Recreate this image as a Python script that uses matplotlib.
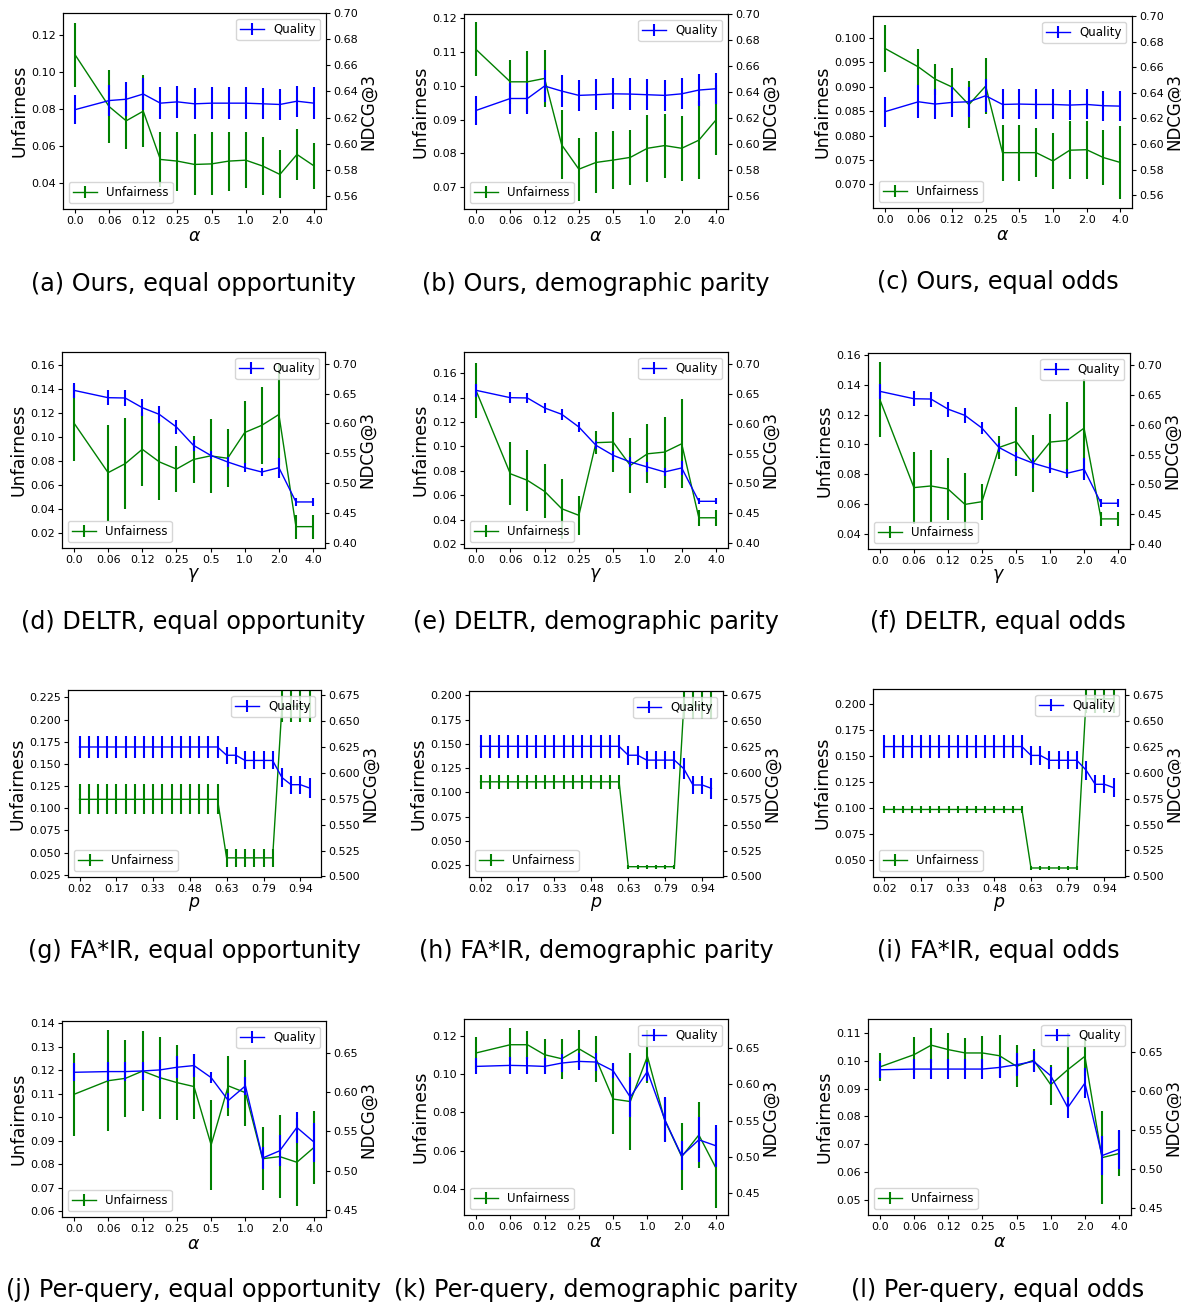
import matplotlib
matplotlib.use("Agg")
import matplotlib.pyplot as plt
from matplotlib.ticker import MultipleLocator, FormatStrFormatter
import numpy as np

# x grids
alpha_vals = [0.0, 0.0625, 0.0884, 0.125, 0.1768, 0.25, 0.3536, 0.5, 0.7071, 1.0, 1.4142, 2.0, 2.8284, 4.0]
alpha_ticks = [0.0, 0.0625, 0.125, 0.25, 0.5, 1.0, 2.0, 4.0]
alpha_tick_labels = ["0.0", "0.06", "0.12", "0.25", "0.5", "1.0", "2.0", "4.0"]
p_vals = [0.020, 0.058, 0.097, 0.135, 0.174, 0.212, 0.250, 0.289, 0.327, 0.366, 0.404, 0.442, 0.481,
          0.519, 0.558, 0.596, 0.634, 0.673, 0.711, 0.750, 0.788, 0.826, 0.865, 0.903, 0.942, 0.980]

# (a) Ours, equal opportunity
a_unf = [0.1095, 0.0814, 0.0737, 0.0789, 0.0528, 0.0519, 0.0501, 0.0504, 0.0519, 0.0524, 0.0492, 0.0447, 0.0555, 0.0493]
a_unf_err = [0.0173, 0.0196, 0.0150, 0.0195, 0.0150, 0.0160, 0.0167, 0.0170, 0.0160, 0.0150, 0.0155, 0.0130, 0.0140, 0.0126]
a_ndcg = [0.626, 0.633, 0.634, 0.638, 0.631, 0.632, 0.6305, 0.631, 0.631, 0.631, 0.6305, 0.630, 0.6325, 0.631]
a_ndcg_err = [0.011, 0.012, 0.013, 0.0125, 0.012, 0.012, 0.012, 0.012, 0.012, 0.012, 0.012, 0.012, 0.012, 0.012]

# (b) Ours, demographic parity
b_unf = [0.1108, 0.1012, 0.1012, 0.1022, 0.0825, 0.0753, 0.0773, 0.0780, 0.0788, 0.0815, 0.0823, 0.0815, 0.0839, 0.0899]
b_unf_err = [0.0080, 0.0066, 0.0090, 0.0085, 0.0102, 0.0093, 0.0090, 0.0085, 0.0081, 0.0100, 0.0095, 0.0096, 0.0115, 0.0104]
b_ndcg = [0.6258, 0.635, 0.635, 0.6446, 0.6407, 0.6374, 0.6379, 0.6386, 0.6384, 0.6379, 0.6374, 0.6386, 0.6415, 0.6425]
b_ndcg_err = [0.0112, 0.0116, 0.0118, 0.012, 0.012, 0.012, 0.012, 0.012, 0.012, 0.012, 0.012, 0.012, 0.012, 0.012]

# (c) Ours, equal odds
c_unf = [0.0978, 0.0940, 0.0915, 0.0899, 0.0863, 0.0901, 0.0765, 0.0765, 0.0765, 0.0748, 0.0770, 0.0771, 0.0755, 0.0745]
c_unf_err = [0.0048, 0.0036, 0.0032, 0.0039, 0.0048, 0.0058, 0.0057, 0.0057, 0.0050, 0.0057, 0.0059, 0.0059, 0.0057, 0.0075]
c_ndcg = [0.6252, 0.633, 0.6312, 0.6325, 0.633, 0.6377, 0.6309, 0.6312, 0.6309, 0.6309, 0.6304, 0.6309, 0.6299, 0.6296]
c_ndcg_err = [0.0117, 0.0128, 0.0117, 0.0117, 0.0117, 0.0130, 0.0117, 0.0117, 0.0117, 0.0117, 0.0117, 0.0117, 0.0117, 0.0117]

# (d) DELTR, equal opportunity
d_unf = [0.1114, 0.0700, 0.0775, 0.0895, 0.0790, 0.0730, 0.0810, 0.0840, 0.0820, 0.1035, 0.1095, 0.1185, 0.0250, 0.0250]
d_unf_err = [0.032, 0.040, 0.038, 0.031, 0.032, 0.0195, 0.0195, 0.031, 0.024, 0.026, 0.032, 0.042, 0.010, 0.010]
d_ndcg = [0.6553, 0.643, 0.6425, 0.6263, 0.615, 0.5939, 0.5631, 0.5464, 0.5352, 0.5257, 0.5184, 0.5257, 0.4682, 0.4682]
d_ndcg_err = [0.0126, 0.0126, 0.0126, 0.0137, 0.0137, 0.012, 0.0092, 0.007, 0.008, 0.008, 0.007, 0.0168, 0.006, 0.006]

# (e) DELTR, demographic parity
e_unf = [0.1458, 0.0777, 0.0723, 0.0633, 0.0491, 0.0437, 0.1031, 0.1036, 0.0845, 0.0940, 0.0954, 0.1022, 0.0417, 0.0417]
e_unf_err = [0.0223, 0.0256, 0.025, 0.022, 0.0245, 0.016, 0.0095, 0.0245, 0.0225, 0.024, 0.029, 0.0365, 0.0065, 0.0065]
e_ndcg = [0.6564, 0.644, 0.6435, 0.6267, 0.6161, 0.5948, 0.564, 0.5472, 0.536, 0.5276, 0.5193, 0.526, 0.470, 0.470]
e_ndcg_err = [0.011, 0.009, 0.009, 0.009, 0.009, 0.008, 0.007, 0.008, 0.009, 0.008, 0.007, 0.012, 0.005, 0.005]

# (f) DELTR, equal odds
f_unf = [0.1299, 0.0712, 0.0723, 0.0703, 0.0600, 0.0618, 0.0980, 0.1020, 0.0875, 0.1016, 0.1027, 0.1109, 0.0503, 0.0503]
f_unf_err = [0.025, 0.024, 0.024, 0.021, 0.021, 0.012, 0.0078, 0.0228, 0.019, 0.019, 0.0254, 0.033, 0.0045, 0.0045]
f_ndcg = [0.6563, 0.6439, 0.6434, 0.6265, 0.6159, 0.5946, 0.562, 0.5469, 0.5357, 0.5273, 0.5188, 0.5256, 0.4684, 0.4684]
f_ndcg_err = [0.0126, 0.0126, 0.0126, 0.0126, 0.0126, 0.010, 0.008, 0.008, 0.008, 0.008, 0.007, 0.018, 0.007, 0.007]

# (g) FA*IR, equal opportunity
g_unf = [0.110, 0.110, 0.110, 0.110, 0.110, 0.110, 0.110, 0.110, 0.110, 0.110, 0.110, 0.110, 0.110,
         0.110, 0.110, 0.110, 0.044, 0.044, 0.044, 0.044, 0.044, 0.044, 0.215, 0.215, 0.215, 0.215]
g_unf_err = [0.017, 0.017, 0.017, 0.017, 0.017, 0.017, 0.017, 0.017, 0.017, 0.017, 0.017, 0.017, 0.017,
             0.017, 0.017, 0.017, 0.0103, 0.0103, 0.0103, 0.0103, 0.0103, 0.0103, 0.018, 0.018, 0.018, 0.018]
g_ndcg = [0.625, 0.625, 0.625, 0.625, 0.625, 0.625, 0.625, 0.625, 0.625, 0.625, 0.625, 0.625, 0.625,
          0.625, 0.625, 0.625, 0.617, 0.617, 0.612, 0.612, 0.612, 0.612, 0.5955, 0.5886, 0.5886, 0.5854]
g_ndcg_err = [0.0106, 0.0106, 0.0106, 0.0106, 0.0106, 0.0106, 0.0106, 0.0106, 0.0106, 0.0106, 0.0106, 0.0106, 0.0106,
              0.0106, 0.0106, 0.0106, 0.0084, 0.0084, 0.0087, 0.0087, 0.0087, 0.0087, 0.0095, 0.0087, 0.0087, 0.0092]

# (h) FA*IR, demographic parity
h_unf = [0.111, 0.111, 0.111, 0.111, 0.111, 0.111, 0.111, 0.111, 0.111, 0.111, 0.111, 0.111, 0.111,
         0.111, 0.111, 0.111, 0.0236, 0.0236, 0.0236, 0.0236, 0.0236, 0.0236, 0.190, 0.190, 0.190, 0.190]
h_unf_err = [0.0069, 0.0069, 0.0069, 0.0069, 0.0069, 0.0069, 0.0069, 0.0069, 0.0069, 0.0069, 0.0069, 0.0069, 0.0069,
             0.0069, 0.0069, 0.0069, 0.002, 0.002, 0.002, 0.002, 0.002, 0.002, 0.014, 0.014, 0.014, 0.014]
h_ndcg = [0.6256, 0.6256, 0.6256, 0.6256, 0.6256, 0.6256, 0.6256, 0.6256, 0.6256, 0.6256, 0.6256, 0.6256, 0.6256,
          0.6256, 0.6256, 0.6256, 0.617, 0.617, 0.6123, 0.6123, 0.6123, 0.6123, 0.604, 0.5883, 0.5883, 0.585]
h_ndcg_err = [0.0108, 0.0108, 0.0108, 0.0108, 0.0108, 0.0108, 0.0108, 0.0108, 0.0108, 0.0108, 0.0108, 0.0108, 0.0108,
              0.0108, 0.0108, 0.0108, 0.0092, 0.0092, 0.0087, 0.0087, 0.0087, 0.0087, 0.0103, 0.0087, 0.0087, 0.0103]

# (i) FA*IR, equal odds
i_unf = [0.0984, 0.0984, 0.0984, 0.0984, 0.0984, 0.0984, 0.0984, 0.0984, 0.0984, 0.0984, 0.0984, 0.0984, 0.0984,
         0.0984, 0.0984, 0.0984, 0.042, 0.042, 0.042, 0.042, 0.042, 0.042, 0.205, 0.205, 0.205, 0.205]
i_unf_err = [0.0032, 0.0032, 0.0032, 0.0032, 0.0032, 0.0032, 0.0032, 0.0032, 0.0032, 0.0032, 0.0032, 0.0032, 0.0032,
             0.0032, 0.0032, 0.0032, 0.0016, 0.0016, 0.0016, 0.0016, 0.0016, 0.0016, 0.014, 0.014, 0.014, 0.014]
i_ndcg = [0.625, 0.625, 0.625, 0.625, 0.625, 0.625, 0.625, 0.625, 0.625, 0.625, 0.625, 0.625, 0.625,
          0.625, 0.625, 0.625, 0.6165, 0.6165, 0.6118, 0.6118, 0.6118, 0.6118, 0.6023, 0.5887, 0.5887, 0.5855]
i_ndcg_err = [0.0107, 0.0107, 0.0107, 0.0107, 0.0107, 0.0107, 0.0107, 0.0107, 0.0107, 0.0107, 0.0107, 0.0107, 0.0107,
              0.0107, 0.0107, 0.0107, 0.009, 0.009, 0.0087, 0.0087, 0.0087, 0.0087, 0.009, 0.0087, 0.0087, 0.0095]

# (j) Per-query, equal opportunity
j_unf = [0.1098, 0.1156, 0.1166, 0.1197, 0.1169, 0.1148, 0.1131, 0.0883, 0.1134, 0.1105, 0.0824, 0.0833, 0.0809, 0.0872]
j_unf_err = [0.0176, 0.0216, 0.0164, 0.017, 0.0175, 0.016, 0.014, 0.019, 0.0127, 0.014, 0.0134, 0.0176, 0.0188, 0.0157]
j_ndcg = [0.6257, 0.6266, 0.6266, 0.6274, 0.6287, 0.6321, 0.6343, 0.6189, 0.5896, 0.6083, 0.516, 0.5253, 0.5551, 0.5364]
j_ndcg_err = [0.0113, 0.012, 0.012, 0.012, 0.0128, 0.0138, 0.0145, 0.0075, 0.009, 0.0113, 0.0145, 0.020, 0.020, 0.025]

# (k) Per-query, demographic parity
k_unf = [0.111, 0.1153, 0.1153, 0.1101, 0.108, 0.1132, 0.108, 0.087, 0.0857, 0.1092, 0.0762, 0.057, 0.0683, 0.051]
k_unf_err = [0.0081, 0.0087, 0.0074, 0.008, 0.0103, 0.0098, 0.0119, 0.018, 0.0254, 0.014, 0.0113, 0.0174, 0.017, 0.0209]
k_ndcg = [0.6247, 0.6261, 0.6256, 0.6247, 0.6293, 0.6316, 0.6307, 0.6187, 0.5824, 0.6178, 0.5521, 0.5015, 0.5236, 0.5153]
k_ndcg_err = [0.011, 0.012, 0.012, 0.011, 0.012, 0.012, 0.013, 0.01, 0.0276, 0.0126, 0.031, 0.02, 0.031, 0.029]

# (l) Per-query, equal odds
l_unf = [0.0978, 0.1022, 0.1056, 0.104, 0.1028, 0.1028, 0.1018, 0.098, 0.1002, 0.0914, 0.0968, 0.1016, 0.0652, 0.0667]
l_unf_err = [0.0049, 0.0065, 0.0063, 0.0059, 0.0055, 0.0061, 0.0075, 0.0076, 0.0039, 0.0072, 0.013, 0.0069, 0.0168, 0.0081]
l_ndcg = [0.6276, 0.6285, 0.6285, 0.6285, 0.6285, 0.6285, 0.6306, 0.6341, 0.6384, 0.6199, 0.579, 0.6104, 0.517, 0.5253]
l_ndcg_err = [0.0108, 0.0125, 0.0125, 0.0125, 0.0125, 0.0125, 0.013, 0.015, 0.014, 0.011, 0.013, 0.019, 0.025, 0.025]

captions = ["(a) Ours, equal opportunity", "(b) Ours, demographic parity", "(c) Ours, equal odds",
            "(d) DELTR, equal opportunity", "(e) DELTR, demographic parity", "(f) DELTR, equal odds",
            "(g) FA*IR, equal opportunity", "(h) FA*IR, demographic parity", "(i) FA*IR, equal odds",
            "(j) Per-query, equal opportunity", "(k) Per-query, demographic parity", "(l) Per-query, equal odds"]

W, H = 1181, 1305


def alpha_pos(v):
    # sqrt(2) steps -> one slot each; 0.0 sits two slots left of 0.0625
    v = np.asarray(v, dtype=float)
    out = np.zeros_like(v)
    nz = v > 0
    out[nz] = 2 * np.log2(v[nz]) + 10
    return out


# panel: (data, xkind, xlabel, left ylim, right ylim, left step, right step, left fmt, right fmt, box px, caption xy)
panels = [
    ((a_unf, a_unf_err, a_ndcg, a_ndcg_err), "alpha", r"$\alpha$", (0.026, 0.132), (0.55, 0.70), 0.02, 0.02, "%.2f", "%.2f", (63, 13, 326, 209), (193, 284)),
    ((b_unf, b_unf_err, b_ndcg, b_ndcg_err), "alpha", r"$\alpha$", (0.0635, 0.1213), (0.55, 0.70), 0.01, 0.02, "%.2f", "%.2f", (464, 14, 728, 209), (596, 284)),
    ((c_unf, c_unf_err, c_ndcg, c_ndcg_err), "alpha", r"$\alpha$", (0.0652, 0.1044), (0.55, 0.70), 0.005, 0.02, "%.3f", "%.2f", (873, 16, 1132, 208), (998, 282)),
    ((d_unf, d_unf_err, d_ndcg, d_ndcg_err), "alpha", r"$\gamma$", (0.0072, 0.1706), (0.391, 0.7196), 0.02, 0.05, "%.2f", "%.2f", (62, 352, 325, 548), (193, 622)),
    ((e_unf, e_unf_err, e_ndcg, e_ndcg_err), "alpha", r"$\gamma$", (0.017, 0.1772), (0.3916, 0.7207), 0.02, 0.05, "%.2f", "%.2f", (464, 352, 728, 548), (596, 622)),
    ((f_unf, f_unf_err, f_ndcg, f_ndcg_err), "alpha", r"$\gamma$", (0.0302, 0.1611), (0.3916, 0.7207), 0.02, 0.05, "%.2f", "%.2f", (868, 353, 1130, 549), (998, 622)),
    ((g_unf, g_unf_err, g_ndcg, g_ndcg_err), "p", r"$p$", (0.0224, 0.2333), (0.4995, 0.680), 0.025, 0.025, "%.3f", "%.3f", (68, 690, 321, 877), (194, 951)),
    ((h_unf, h_unf_err, h_ndcg, h_ndcg_err), "p", r"$p$", (0.013, 0.2045), (0.4995, 0.679), 0.025, 0.025, "%.3f", "%.3f", (469, 691, 723, 877), (596, 951)),
    ((i_unf, i_unf_err, i_ndcg, i_ndcg_err), "p", r"$p$", (0.0333, 0.2145), (0.4995, 0.6804), 0.025, 0.025, "%.3f", "%.3f", (873, 689, 1125, 877), (998, 951)),
    ((j_unf, j_unf_err, j_ndcg, j_ndcg_err), "alpha", r"$\alpha$", (0.0576, 0.141), (0.4406, 0.6913), 0.01, 0.05, "%.2f", "%.2f", (62, 1021, 326, 1217), (193, 1290)),
    ((k_unf, k_unf_err, k_ndcg, k_ndcg_err), "alpha", r"$\alpha$", (0.0266, 0.1287), (0.420, 0.690), 0.02, 0.05, "%.2f", "%.2f", (464, 1019, 728, 1215), (596, 1290)),
    ((l_unf, l_unf_err, l_ndcg, l_ndcg_err), "alpha", r"$\alpha$", (0.0446, 0.115), (0.4405, 0.693), 0.01, 0.05, "%.2f", "%.2f", (868, 1019, 1131, 1215), (998, 1290)),
]

tick_fs = 8
legend_fs = 8.5
label_fs = 12
cap_fs = 17.2

fig = plt.figure(figsize=(W / 100, H / 100), dpi=100)

for (data, xkind, xlabel, yl1, yl2, st1, st2, fm1, fm2, box, cap_xy), cap in zip(panels, captions):
    unf, unf_err, ndcg, ndcg_err = data
    l, t, r, b = box
    ax1 = fig.add_axes([l / W, 1 - b / H, (r - l) / W, (b - t) / H])

    if xkind == "alpha":
        x = alpha_pos(alpha_vals)
    else:
        x = np.array(p_vals)

    ax1.errorbar(x, unf, yerr=unf_err, color="g", lw=1.0, elinewidth=1.5, label="Unfairness")
    ax1.set_ylim(*yl1)
    ax1.yaxis.set_major_locator(MultipleLocator(st1))
    ax1.yaxis.set_major_formatter(FormatStrFormatter(fm1))
    ax1.set_ylabel("Unfairness", fontsize=label_fs + 0.5, labelpad=2)
    ax1.set_xlabel(xlabel, fontsize=label_fs + 0.5, labelpad=1)
    ax1.tick_params(labelsize=tick_fs, length=3, pad=2)
    ax1.legend(loc="lower left", fontsize=legend_fs, borderpad=0.35, handlelength=2.0)

    ax2 = ax1.twinx()
    ax2.errorbar(x, ndcg, yerr=ndcg_err, color="b", lw=1.0, elinewidth=1.5, label="Quality")
    ax2.set_ylim(*yl2)
    ax2.yaxis.set_major_locator(MultipleLocator(st2))
    ax2.yaxis.set_major_formatter(FormatStrFormatter(fm2))
    ax2.set_ylabel("NDCG@3", fontsize=label_fs, labelpad=1)
    ax2.tick_params(labelsize=tick_fs, length=3, pad=2)
    ax2.legend(loc="upper right", fontsize=legend_fs, borderpad=0.35, handlelength=2.0)

    if xkind == "alpha":
        ax1.set_xticks(alpha_pos(alpha_ticks))
        ax1.set_xticklabels(alpha_tick_labels)
    else:
        ax1.set_xticks(p_vals[::4])
        ax1.set_xticklabels(["%.2f" % v for v in p_vals[::4]])

    fig.text(cap_xy[0] / W, 1 - cap_xy[1] / H, cap, fontsize=cap_fs, ha="center", va="center")

fig.savefig("out.png", dpi=100)
